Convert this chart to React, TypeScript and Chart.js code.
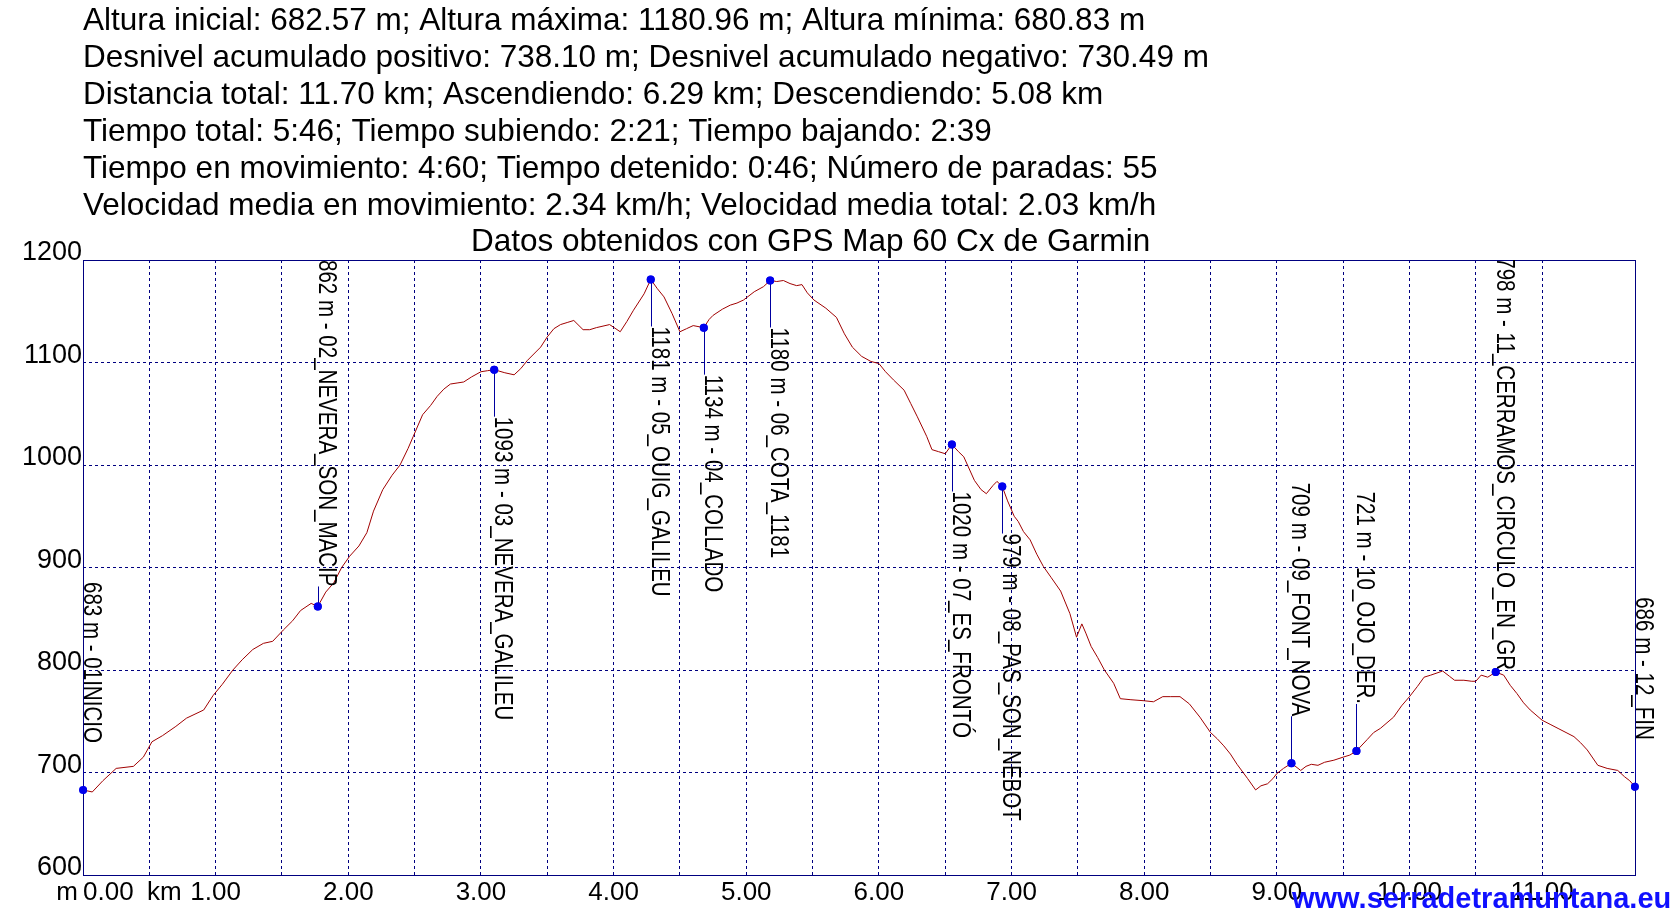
import { useEffect, useRef } from 'react';
import { Chart, registerables } from 'chart.js';

Chart.register(...registerables);

const headerLines = [
  'Altura inicial: 682.57 m; Altura máxima: 1180.96 m; Altura mínima: 680.83 m',
  'Desnivel acumulado positivo: 738.10 m; Desnivel acumulado negativo: 730.49 m',
  'Distancia total: 11.70 km; Ascendiendo: 6.29 km; Descendiendo: 5.08 km',
  'Tiempo total: 5:46; Tiempo subiendo: 2:21; Tiempo bajando: 2:39',
  'Tiempo en movimiento: 4:60; Tiempo detenido: 0:46; Número de paradas: 55',
  'Velocidad media en movimiento: 2.34 km/h; Velocidad media total: 2.03 km/h',
];
const chartTitle = 'Datos obtenidos con GPS Map 60 Cx de Garmin';
const watermark = 'www.serradetramuntana.eu';

const distanceKm = [
  0.0, 0.07, 0.15, 0.25, 0.38, 0.455, 0.52, 0.6, 0.7, 0.78, 0.91, 0.98, 1.05, 1.13, 1.2, 1.28, 1.36, 1.43, 1.51, 1.58,
  1.64, 1.72, 1.77, 1.83, 1.89, 1.95, 2.01, 2.08, 2.14, 2.19, 2.26, 2.33, 2.39, 2.45, 2.49, 2.56, 2.62, 2.67, 2.72, 2.77,
  2.82, 2.87, 2.93, 3.0, 3.05, 3.1, 3.18, 3.25, 3.3, 3.35, 3.45, 3.5, 3.55, 3.6, 3.65, 3.7, 3.77, 3.82, 3.87, 3.97,
  4.05, 4.1, 4.15, 4.23, 4.28, 4.33, 4.38, 4.44, 4.5, 4.55, 4.6, 4.68, 4.72, 4.75, 4.82, 4.88, 4.93, 4.98, 5.06, 5.13,
  5.18, 5.23, 5.28, 5.33, 5.38, 5.42, 5.46, 5.51, 5.6, 5.68, 5.74, 5.8, 5.87, 5.94, 6.0, 6.05, 6.11, 6.19, 6.24, 6.29,
  6.36, 6.4, 6.45, 6.5, 6.55, 6.6, 6.64, 6.72, 6.77, 6.81, 6.86, 6.89, 6.93, 6.97, 7.02, 7.05, 7.09, 7.14, 7.19, 7.24,
  7.3, 7.37, 7.44, 7.49, 7.53, 7.56, 7.6, 7.65, 7.7, 7.77, 7.82, 7.9, 8.0, 8.07, 8.14, 8.2, 8.27, 8.34, 8.42, 8.5,
  8.55, 8.6, 8.65, 8.7, 8.78, 8.84, 8.88, 8.93, 8.97, 9.0, 9.05, 9.11, 9.18, 9.22, 9.26, 9.31, 9.36, 9.43, 9.5, 9.55,
  9.6, 9.68, 9.73, 9.78, 9.88, 9.94, 10.0, 10.06, 10.11, 10.16, 10.25, 10.3, 10.34, 10.41, 10.47, 10.5, 10.54, 10.59, 10.65, 10.71,
  10.76, 10.81, 10.86, 10.91, 11.0, 11.06, 11.12, 11.18, 11.24, 11.29, 11.34, 11.42, 11.49, 11.57, 11.62, 11.66, 11.7,
];
const elevationM = [
  683, 681, 692, 704, 706, 715, 730, 736, 745, 753, 761, 775, 786, 800, 810, 820, 826, 828, 839, 848,
  858, 865, 862, 876, 885, 900, 911, 921, 934, 955, 976, 990, 1000, 1016, 1028, 1049, 1058, 1067, 1074, 1079,
  1080, 1081, 1086, 1091, 1092, 1093, 1090, 1088, 1094, 1102, 1115, 1125, 1133, 1137, 1139, 1141, 1132, 1132, 1134, 1137,
  1130, 1140, 1151, 1167, 1181, 1172, 1164, 1148, 1130, 1133, 1136, 1134, 1142, 1146, 1152, 1156, 1158, 1161, 1169, 1174,
  1180, 1179, 1180, 1177, 1175, 1176, 1168, 1161, 1153, 1144, 1128, 1115, 1106, 1101, 1099, 1091, 1083, 1073, 1060, 1047,
  1028, 1015, 1013, 1011, 1020, 1013, 1008, 985, 976, 972, 980, 984, 979, 965, 950, 945, 935, 927, 913, 901,
  890, 877, 855, 832, 845, 836, 823, 812, 800, 787, 772, 771, 770, 769, 774, 774, 774, 767, 754, 739,
  733, 726, 718, 708, 694, 683, 687, 689, 694, 699, 704, 709, 702, 706, 708, 707, 710, 712, 715, 717,
  721, 732, 739, 743, 754, 765, 774, 784, 793, 795, 799, 794, 790, 790, 789, 789, 795, 793, 798, 795,
  785, 777, 768, 761, 751, 747, 743, 739, 735, 729, 722, 707, 704, 702, 696, 692, 686,
];

const waypointKm = [0.0, 1.77, 3.1, 4.28, 4.68, 5.18, 6.55, 6.93, 9.11, 9.6, 10.65, 11.7];
const waypointM = [683, 862, 1093, 1181, 1134, 1180, 1020, 979, 709, 721, 798, 686];
const waypointNames = [
  '01INICIO',
  '02_NEVERA_SON_MACIP',
  '03_NEVERA_GALILEU',
  '05_OUIG_GALILEU',
  '04_COLLADO',
  '06_COTA_1181',
  '07_ES_FRONTÓ',
  '08_PAS_SON_NEBOT',
  '09_FONT_NOVA',
  '10_OJO_DER.',
  '11_CERRAMOS_CIRCULO_EN_GR',
  '12_FIN',
];

const yTickValues = [600, 700, 800, 900, 1000, 1100, 1200];
const xTickValues = [1, 2, 3, 4, 5, 6, 7, 8, 9, 10, 11];
const xTickLabels = ['1.00', '2.00', '3.00', '4.00', '5.00', '6.00', '7.00', '8.00', '9.00', '10.00', '11.00'];
const xFirstLabel = '0.00';
const xUnit = 'km';
const yUnit = 'm';

const FONT = '"Liberation Sans", Arial, sans-serif';
const NAVY = '#000080';

const decorPlugin = {
  id: 'decor',
  afterDraw(chart: any) {
    const { ctx, chartArea, scales } = chart;
    const xs = scales.x;
    const ys = scales.y;
    const { left, right, top, bottom } = chartArea;
    ctx.save();

    // frame
    ctx.strokeStyle = NAVY;
    ctx.lineWidth = 1;
    ctx.setLineDash([]);
    ctx.strokeRect(Math.round(left) + 0.5, Math.round(top) + 0.5, Math.round(right - left), Math.round(bottom - top));

    // header
    ctx.fillStyle = '#000';
    ctx.textAlign = 'left';
    ctx.textBaseline = 'alphabetic';
    ctx.font = `31.5px ${FONT}`;
    headerLines.forEach((t, i) => ctx.fillText(t, 83, 30 + i * 37));
    ctx.fillText(chartTitle, 471, 251);

    // y tick labels
    ctx.font = `27px ${FONT}`;
    ctx.textAlign = 'right';
    yTickValues.forEach((v) => ctx.fillText(String(v), left - 1, ys.getPixelForValue(v)));

    // x tick labels
    ctx.font = `26px ${FONT}`;
    ctx.textAlign = 'center';
    xTickValues.forEach((v, i) => ctx.fillText(xTickLabels[i], xs.getPixelForValue(v), 900));
    ctx.textAlign = 'left';
    ctx.fillText(xFirstLabel, xs.getPixelForValue(0), 900);
    ctx.fillText(xUnit, xs.getPixelForValue(0) + 64, 900);
    ctx.textAlign = 'right';
    ctx.fillText(yUnit, xs.getPixelForValue(0) - 5, 900);

    // waypoint labels + connectors
    ctx.beginPath();
    ctx.rect(0, top, chart.width, chart.height - top);
    ctx.clip();
    const sx = 0.79;
    const gap = 47;
    ctx.font = `26px ${FONT}`;
    ctx.textAlign = 'left';
    waypointKm.forEach((km, i) => {
      const text = `${waypointM[i]} m - ${waypointNames[i]}`;
      const px = Math.round(xs.getPixelForValue(km));
      const py = ys.getPixelForValue(waypointM[i]);
      const L = ctx.measureText(text).width * sx;
      let start: number;
      let lineEnd: number;
      if (py + gap + L <= bottom) {
        start = py + gap;
        lineEnd = start;
      } else {
        let end = py - gap;
        start = end - L;
        if (start < top) {
          start = Math.min(top, py - 2 - L);
          end = start + L;
        }
        lineEnd = end;
      }
      ctx.strokeStyle = '#0000a0';
      ctx.lineWidth = 1;
      ctx.beginPath();
      ctx.moveTo(px + 0.5, py);
      ctx.lineTo(px + 0.5, lineEnd);
      ctx.stroke();
      ctx.save();
      ctx.translate(px + 1, start);
      ctx.rotate(Math.PI / 2);
      ctx.scale(sx, 1);
      ctx.fillStyle = '#000';
      ctx.fillText(text, 0, 0);
      ctx.restore();
    });
    ctx.restore();

    // redraw markers on top of connectors
    ctx.save();
    ctx.fillStyle = '#0000ee';
    waypointKm.forEach((km, i) => {
      ctx.beginPath();
      ctx.arc(xs.getPixelForValue(km), ys.getPixelForValue(waypointM[i]), 4, 0, Math.PI * 2);
      ctx.fill();
    });
    ctx.restore();

    // watermark
    ctx.save();
    ctx.font = `bold 29px ${FONT}`;
    ctx.fillStyle = '#1010ff';
    ctx.textAlign = 'left';
    ctx.textBaseline = 'alphabetic';
    ctx.fillText(watermark, 1292, 908);
    ctx.restore();
  },
};

export default function App() {
  const ref = useRef<HTMLCanvasElement>(null);
  useEffect(() => {
    if (!ref.current) return;
    const profile = distanceKm.map((d, i) => ({ x: d, y: elevationM[i] }));
    const wps = waypointKm.map((d, i) => ({ x: d, y: waypointM[i] }));
    const chart = new Chart(ref.current, {
      type: 'line',
      data: {
        datasets: [
          {
            data: profile,
            borderColor: '#a00000',
            borderWidth: 1,
            pointRadius: 0,
            tension: 0,
            fill: false,
          } as any,
          {
            type: 'scatter',
            data: wps,
            pointRadius: 4,
            backgroundColor: '#0000ee',
            borderWidth: 0,
          } as any,
        ],
      },
      options: {
        animation: false,
        responsive: false,
        devicePixelRatio: 1,
        layout: { padding: { left: 83, top: 260, right: 41, bottom: 46 } },
        plugins: { legend: { display: false }, tooltip: { enabled: false }, title: { display: false } },
        scales: {
          x: {
            type: 'linear',
            min: 0,
            max: 11.7,
            ticks: { display: false, stepSize: 0.5 },
            grid: { color: NAVY, lineWidth: 1, drawTicks: false },
            border: { display: false, dash: [3, 3] },
          },
          y: {
            type: 'linear',
            min: 600,
            max: 1200,
            ticks: { display: false, stepSize: 100 },
            grid: { color: NAVY, lineWidth: 1, drawTicks: false },
            border: { display: false, dash: [3, 3] },
          },
        },
      } as any,
      plugins: [decorPlugin],
    });
    return () => chart.destroy();
  }, []);
  return (
    <div style={{ position: 'absolute', left: 0, top: 0, width: 1676, height: 921, background: '#fff' }}>
      <canvas ref={ref} width={1676} height={921} style={{ display: 'block' }} />
    </div>
  );
}
